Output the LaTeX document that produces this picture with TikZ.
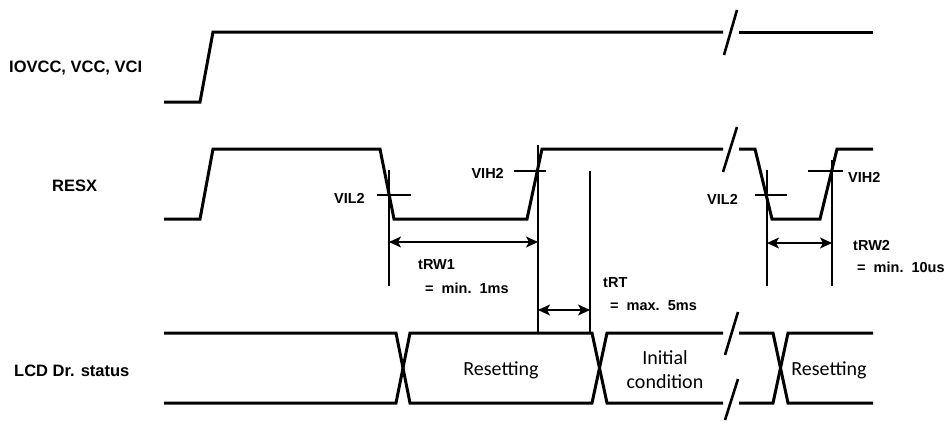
\documentclass[tikz,border=0pt]{standalone}
\usepackage{fontspec}
\setmainfont{Liberation Sans}
\newfontfamily\calfont{Carlito}
\usetikzlibrary{arrows.meta}
\begin{document}
\begin{tikzpicture}[x=1pt,y=-1pt,
  sig/.style={line width=3pt, line join=miter},
  brk/.style={line width=2.6pt},
  dim/.style={line width=1.4pt},
  arr/.style={line width=1.4pt, {Stealth[length=12pt,width=11pt,inset=3pt]}-{Stealth[length=12pt,width=11pt,inset=3pt]}},
  lbl/.style={font=\bfseries\fontsize{16.5}{18}\selectfont, inner sep=0},
  ann/.style={font=\bfseries\fontsize{14.5}{16}\selectfont, inner sep=0},
  bus/.style={font=\calfont\fontsize{20}{24}\selectfont, inner sep=0, align=center},
]
\useasboundingbox (0,0) rectangle (952,423);

% row labels
\node[lbl, anchor=west] (lpwr) at (9,68) {IOVCC, VCC, VCI};
\node[lbl, anchor=west] (lres) at (52,186) {RESX};
\node[lbl, anchor=west] (llcd) at (14,371) {LCD Dr. status};

% power
\draw[sig] (164,102) -- (200,102) -- (213,32) -- (723,32);
\draw[sig] (739,32) -- (873,32);
\draw[brk] (724,55) -- (737,10);

% RESX
\draw[sig] (164,219) -- (200,219) -- (213,149) -- (380,149) -- (394,219) -- (527,219) -- (542,149) -- (723,149);
\draw[sig] (739,149) -- (755,149) -- (772,219) -- (820,219) -- (837,149) -- (873,149);
\draw[brk] (723,172) -- (737,127);

% dimension lines
\coordinate (v1t) at (389,170); \coordinate (v1b) at (389,286);
\coordinate (v2t) at (538,145); \coordinate (v2b) at (538,333);
\coordinate (v3t) at (590,171); \coordinate (v3b) at (590,333);
\coordinate (v4t) at (767,170); \coordinate (v4b) at (767,286);
\coordinate (v5t) at (832,160); \coordinate (v5b) at (832,286);
\draw[dim] (v1t) -- (v1b);
\draw[dim] (v2t) -- (v2b);
\draw[dim] (v3t) -- (v3b);
\draw[dim] (v4t) -- (v4b);
\draw[dim] (v5t) -- (v5b);

% level ticks
\draw[dim] (377,195) -- (411,195);
\draw[dim] (514,171) -- (546,171);
\draw[dim] (755,195) -- (787,195);
\draw[dim] (808,171) -- (843,171);

% arrows
\coordinate (a1l) at (389,242); \coordinate (a1r) at (538,242);
\coordinate (a2l) at (538,310); \coordinate (a2r) at (590,310);
\coordinate (a3l) at (767,243); \coordinate (a3r) at (832,243);
\draw[arr] (a1l) -- (a1r);
\draw[arr] (a2l) -- (a2r);
\draw[arr] (a3l) -- (a3r);

% annotations
\node[ann, anchor=east] (vil1) at (365,198) {VIL2};
\node[ann, anchor=east] (vih1) at (504,173) {VIH2};
\node[ann, anchor=east] (vil2) at (738,199) {VIL2};
\node[ann, anchor=west] (vih2) at (848,177) {VIH2};
\node[ann, anchor=west] (trw1) at (418,265) {tRW1};
\node[ann, anchor=west] (trw1v) at (425,288) {=~~min.~~1ms};
\node[ann, anchor=west] (trt) at (603,283) {tRT};
\node[ann, anchor=west] (trtv) at (610,306) {=~~max.~~5ms};
\node[ann, anchor=west] (trw2) at (853,245) {tRW2};
\node[ann, anchor=west] (trw2v) at (857,267) {=~~min.~~10us};

% LCD bus
\draw[sig] (164,333) -- (396,333) -- (410,403) -- (592,403) -- (607,333) -- (723,333);
\draw[sig] (739,333) -- (773,333) -- (788,403) -- (873,403);
\draw[sig] (164,403) -- (396,403) -- (410,333) -- (592,333) -- (607,403) -- (723,403);
\draw[sig] (739,403) -- (773,403) -- (788,333) -- (873,333);
\draw[brk] (725,355) -- (738,312);
\draw[brk] (725,420) -- (738,379);

\node[bus] (rst1) at (501,370) {Resetting};
\node[bus] (init) at (665,370) {Initial\\condition};
\node[bus] (rst2) at (829,370) {Resetting};
\end{tikzpicture}
\end{document}
